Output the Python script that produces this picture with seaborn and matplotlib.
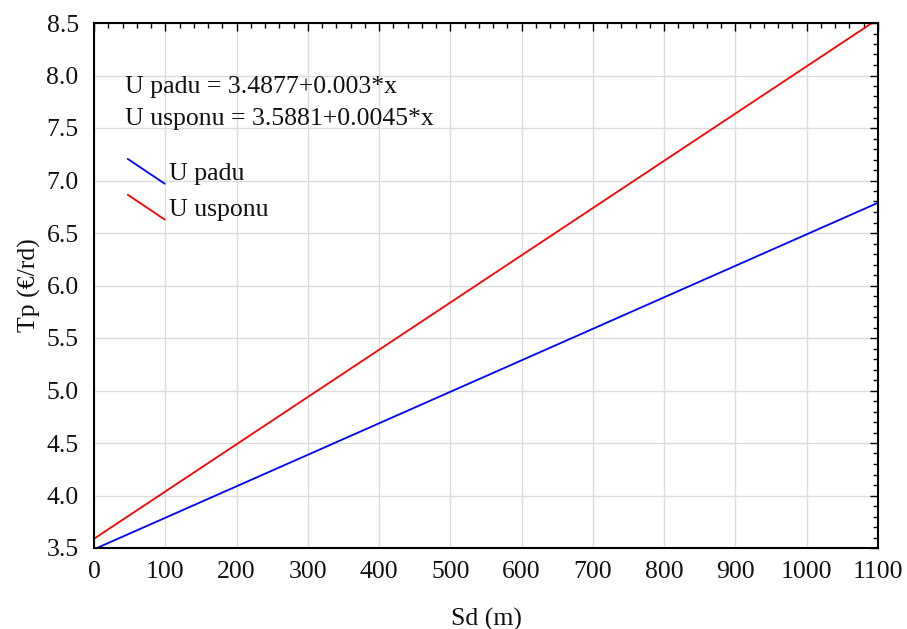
import matplotlib
matplotlib.use("Agg")
import matplotlib.pyplot as plt
import seaborn as sns
import pandas as pd
from matplotlib.legend_handler import HandlerLine2D
from matplotlib.lines import Line2D
from matplotlib.ticker import MultipleLocator

# Data
x_vals = [0, 1100]
padu_vals = [3.4877, 6.7877]
usponu_vals = [3.5881, 8.5381]
series_names = ["U padu", "U usponu"]
series_colors = ["#0000ff", "#ff0000"]
eq_lines = ["U padu = 3.4877+0.003*x", "U usponu = 3.5881+0.0045*x"]

df = pd.DataFrame({
    "Sd": x_vals * 2,
    "Tp": padu_vals + usponu_vals,
    "serie": [series_names[0]] * len(x_vals) + [series_names[1]] * len(x_vals),
})

sns.set_theme(style="white")
plt.rcParams["font.family"] = ["Liberation Serif", "DejaVu Serif"]

FS = 18.5
fig = plt.figure(figsize=(9.07, 6.29), dpi=100)
ax = fig.add_axes([94 / 907, 1 - 548 / 629, (878 - 94) / 907, (548 - 23) / 629])

sns.lineplot(data=df, x="Sd", y="Tp", hue="serie", palette=series_colors,
             ax=ax, linewidth=1.3, legend=False)

ax.set_xlim(0, 1100)
ax.set_ylim(3.5, 8.5)
ax.xaxis.set_major_locator(MultipleLocator(100))
ax.xaxis.set_minor_locator(MultipleLocator(20))
ax.yaxis.set_major_locator(MultipleLocator(0.5))
ax.yaxis.set_minor_locator(MultipleLocator(0.1))
ax.yaxis.set_major_formatter(matplotlib.ticker.FormatStrFormatter("%.1f"))
ax.grid(True, which="major", color="#dcdcdc", linewidth=1.0)
ax.set_axisbelow(True)
ax.tick_params(which="both", direction="in", top=True, right=True,
               colors="black", labelsize=FS)
ax.tick_params(axis="x", which="major", pad=9)
ax.tick_params(axis="y", which="major", pad=11)
ax.tick_params(which="major", length=6, width=1)
ax.tick_params(which="minor", length=3.5, width=1)
for lab in ax.get_xticklabels() + ax.get_yticklabels():
    lab.set_color("#111111")
for s in ax.spines.values():
    s.set_color("black")
    s.set_linewidth(1.5)

ax.set_xlabel("Sd (m)", fontsize=FS, labelpad=18, color="#111111")
ax.set_ylabel("Tp (€/rd)", fontsize=FS, labelpad=4, color="#111111")

ax.text(0.04, 0.9, eq_lines[0] + "\n" + eq_lines[1], transform=ax.transAxes,
        fontsize=FS, va="top", ha="left", linespacing=1.6, color="#111111")


class DiagHandler(HandlerLine2D):
    def create_artists(self, legend, orig_handle, xdescent, ydescent,
                       width, height, fontsize, trans):
        line = Line2D([0 - xdescent, width - xdescent],
                      [height * 1.18 - ydescent, -height * 0.2 - ydescent],
                      color=orig_handle.get_color(),
                      linewidth=orig_handle.get_linewidth())
        line.set_transform(trans)
        return [line]


handles = [Line2D([], [], color=c, linewidth=1.3) for c in series_colors]
leg = ax.legend(handles, series_names, loc="upper left",
                bbox_to_anchor=(0.043, 0.735), frameon=False, fontsize=FS,
                handler_map={Line2D: DiagHandler()}, handlelength=1.44,
                handletextpad=0.18, labelspacing=0.5, borderaxespad=0,
                borderpad=0)
for t in leg.get_texts():
    t.set_color("#111111")

fig.savefig("out.png", dpi=100)
